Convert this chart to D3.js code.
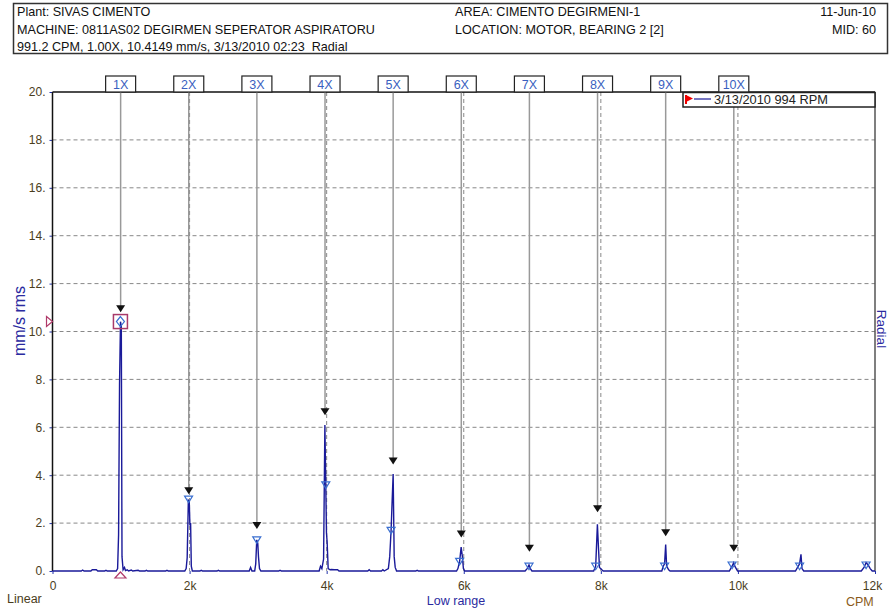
<!DOCTYPE html>
<html>
<head>
<meta charset="utf-8">
<script src="https://cdn.jsdelivr.net/npm/d3@7"></script>
<style>
  body { margin: 0; background: #fff; }
  svg { font-family: "Liberation Sans", Arial, sans-serif; }
  text { white-space: pre; }
</style>
</head>
<body>
<svg id="chart" width="891" height="609"></svg>
<script>
// header texts
const headerLeft = ['Plant: SIVAS CIMENTO', 'MACHINE: 0811AS02 DEGIRMEN SEPERATOR ASPIRATORU', '991.2 CPM, 1.00X, 10.4149 mm/s, 3/13/2010 02:23  Radial'];
const headerMid = ['AREA: CIMENTO DEGIRMENI-1', 'LOCATION: MOTOR, BEARING 2 [2]'];
const headerRight = ['11-Jun-10', 'MID: 60'];

const yTicks = [0, 2, 4, 6, 8, 10, 12, 14, 16, 18, 20];
const xTicks = [0, 2000, 4000, 6000, 8000, 10000, 12000];
const xTickLabels = ['0', '2k', '4k', '6k', '8k', '10k', '12k'];

const runSpeed = 994;   // RPM, harmonic spacing
const harmonicLabels = ['1X', '2X', '3X', '4X', '5X', '6X', '7X', '8X', '9X', '10X'];
const harmonicTips = [10.8, 3.2, 1.75, 6.5, 4.45, 1.4, 0.8, 2.45, 1.45, 0.8];

const cursor = { cpm: 991.2, amp: 10.4149 };

// spectrum, [CPM, mm/s rms]
const spectrum = [
  [0, 0], [420, 0], [440, 0.04], [460, 0], [560, 0], [580, 0.05], [640, 0.05], [660, 0], [760, 0], [780, 0.03], [800, 0],
  [930, 0], [950, 0.1], [964, 1.5], [978, 7.8], [992, 10.41], [1004, 10.2], [1014, 0.6], [1030, 0.05], [1050, 0.15], [1065, 0.02],
  [1090, 0.05], [1110, 0], [1150, 0.04], [1170, 0], [1250, 0.03], [1270, 0], [1350, 0], [1370, 0.03], [1390, 0],
  [1650, 0], [1670, 0.03], [1690, 0],
  [1930, 0], [1950, 0.1], [1965, 0.55], [1982, 2.95], [1995, 2.9], [2005, 1.9], [2015, 2.0], [2025, 0.2], [2040, 0],
  [2150, 0], [2170, 0.03], [2190, 0], [2400, 0], [2420, 0.03], [2440, 0],
  [2870, 0], [2890, 0.15], [2910, 0], [2950, 0], [2965, 0.3], [2980, 1.3], [2995, 1.15], [3005, 0.6], [3020, 0.1], [3040, 0],
  [3300, 0], [3320, 0.03], [3340, 0],
  [3890, 0], [3910, 0.2], [3930, 0.1], [3955, 0.5], [3974, 6.1], [3987, 3.6], [3997, 1.6], [4007, 1.2], [4022, 0.1],
  [4050, 0.05], [4070, 0.06], [4110, 0.05], [4160, 0.05], [4180, 0],
  [4600, 0], [4620, 0.05], [4640, 0], [4800, 0], [4820, 0.05], [4840, 0],
  [4900, 0.1], [4920, 0.6], [4940, 1.7], [4955, 2.9], [4970, 4.05], [4985, 0.6], [5000, 0.15], [5020, 0],
  [5300, 0], [5320, 0.03], [5340, 0],
  [5895, 0], [5915, 0.1], [5940, 0.4], [5962, 1.0], [5980, 0.6], [5995, 0.1], [6015, 0],
  [6895, 0], [6925, 0.1], [6952, 0.25], [6972, 0.1], [6995, 0],
  [7895, 0], [7925, 0.2], [7950, 1.95], [7965, 1.0], [7980, 0.15], [8015, 0.05], [8035, 0],
  [8890, 0], [8910, 0.2], [8930, 0.3], [8946, 1.1], [8960, 0.2], [8990, 0.05], [9010, 0],
  [9875, 0], [9895, 0.1], [9915, 0.2], [9938, 0.35], [9955, 0.2], [9975, 0.1], [9995, 0],
  [10840, 0], [10880, 0.2], [10900, 0.3], [10920, 0.7], [10935, 0.1], [10960, 0],
  [11800, 0], [11840, 0.15], [11870, 0.35], [11900, 0.25], [11930, 0.1], [11960, 0], [12000, 0]
];

// peak markers (open triangles)
const peakMarks = [[1985, 3.0], [2980, 1.3], [3987, 3.6], [4940, 1.7], [5940, 0.4], [6952, 0.2], [7925, 0.2],
  [8930, 0.2], [9915, 0.25], [10900, 0.2], [11870, 0.25]];

const svg = d3.select('#chart');
const plotL = 52.5, plotR = 875, plotT = 92, plotB = 571;

const x = d3.scaleLinear().domain([0, 12000]).range([plotL, plotR]);
const y = d3.scaleLinear().domain([0, 20]).range([plotB, plotT]);

// header box
svg.append('rect')
  .attr('x', 13.5).attr('y', 3.5).attr('width', 874).attr('height', 50)
  .attr('fill', '#fff').attr('stroke', '#333').attr('stroke-width', 1.5);
const hdr = svg.append('g').attr('font-size', 12.6).attr('fill', '#111');
const rowY = [16, 34, 51];
headerLeft.forEach((t, i) => hdr.append('text').attr('x', 17).attr('y', rowY[i]).text(t));
headerMid.forEach((t, i) => hdr.append('text').attr('x', 455).attr('y', rowY[i]).text(t));
headerRight.forEach((t, i) => hdr.append('text').attr('x', 876).attr('y', rowY[i])
  .attr('text-anchor', 'end').text(t));

// grid
svg.append('g')
  .selectAll('line')
  .data(yTicks.filter(d => d > 0 && d < 20))
  .join('line')
    .attr('x1', plotL).attr('x2', plotR)
    .attr('y1', d => y(d)).attr('y2', d => y(d))
    .attr('stroke', '#888').attr('stroke-dasharray', '4,3');
svg.append('g')
  .selectAll('line')
  .data(xTicks.filter(d => d > 0 && d < 12000))
  .join('line')
    .attr('x1', d => x(d)).attr('x2', d => x(d))
    .attr('y1', plotT).attr('y2', plotB)
    .attr('stroke', '#888').attr('stroke-dasharray', '4,3');

// y axis
const yAxis = svg.append('g')
  .attr('transform', `translate(${plotL},0)`)
  .call(d3.axisLeft(y).tickValues(yTicks).tickSize(3).tickFormat(d => d + '.'));
yAxis.select('.domain').remove();
yAxis.selectAll('line').attr('stroke', '#2233aa');
yAxis.selectAll('text').attr('fill', '#4a3d1c').attr('font-size', 12)
  .attr('font-family', '"Liberation Sans", Arial, sans-serif').attr('x', -7);

// x axis
const xAxis = svg.append('g')
  .attr('transform', `translate(0,${plotB})`)
  .call(d3.axisBottom(x).tickValues(xTicks).tickSize(3).tickFormat((d, i) => xTickLabels[i]));
xAxis.select('.domain').remove();
xAxis.selectAll('line').attr('stroke', '#2233aa');
xAxis.selectAll('text').attr('fill', '#4a3d1c').attr('font-size', 12)
  .attr('font-family', '"Liberation Sans", Arial, sans-serif').attr('dy', '1.05em');
xAxis.selectAll('.tick').filter(d => d === 12000).select('text').attr('x', -3);

// plot frame
svg.append('line').attr('x1', plotR).attr('x2', plotR).attr('y1', plotT).attr('y2', plotB)
  .attr('stroke', '#555').attr('stroke-width', 1.5);
svg.append('line').attr('x1', plotL).attr('x2', plotR).attr('y1', plotT).attr('y2', plotT)
  .attr('stroke', '#111').attr('stroke-width', 1.5);
svg.append('line').attr('x1', plotL).attr('x2', plotL).attr('y1', plotT).attr('y2', plotB)
  .attr('stroke', '#111').attr('stroke-width', 1.5);

// harmonic cursors
const harm = svg.append('g')
  .selectAll('g')
  .data(harmonicLabels.map((l, i) => ({ label: l, cpm: runSpeed * (i + 1), tip: harmonicTips[i] })))
  .join('g');
harm.append('line')
  .attr('x1', d => x(d.cpm)).attr('x2', d => x(d.cpm))
  .attr('y1', plotT).attr('y2', d => y(d.tip) - 6)
  .attr('stroke', '#999').attr('stroke-width', 1.5);
harm.append('path')
  .attr('d', d => `M${x(d.cpm) - 4.5},${y(d.tip) - 7}L${x(d.cpm) + 4.5},${y(d.tip) - 7}L${x(d.cpm)},${y(d.tip)}Z`)
  .attr('fill', '#111');
harm.append('rect')
  .attr('x', d => x(d.cpm) - 15).attr('y', 76).attr('width', 30).attr('height', 16)
  .attr('fill', '#fff').attr('stroke', '#222').attr('stroke-width', 1.2);
harm.append('text')
  .attr('x', d => x(d.cpm)).attr('y', 88.5).attr('text-anchor', 'middle')
  .attr('font-size', 12.5).attr('fill', '#3a5fc0')
  .text(d => d.label);

// legend
svg.append('rect').attr('x', 683).attr('y', 92.5).attr('width', 192).attr('height', 14.5)
  .attr('fill', '#fff').attr('stroke', '#222').attr('stroke-width', 1.5);
svg.append('path').attr('d', 'M686,95L693,98.5L686,102Z').attr('fill', '#e00');
svg.append('line').attr('x1', 686).attr('x2', 686).attr('y1', 95).attr('y2', 104).attr('stroke', '#e00').attr('stroke-width', 2);
svg.append('line').attr('x1', 694).attr('x2', 711).attr('y1', 99).attr('y2', 99).attr('stroke', '#1a1a99').attr('stroke-width', 1.2);
svg.append('text').attr('x', 714).attr('y', 104).attr('font-size', 12.8).attr('fill', '#222')
  .text('3/13/2010 ' + runSpeed + ' RPM');

// spectrum
const line = d3.line().x(d => x(d[0])).y(d => y(d[1]));
svg.append('path')
  .datum(spectrum)
  .attr('d', line)
  .attr('fill', 'none')
  .attr('stroke', '#1a1a99')
  .attr('stroke-width', 1.4);

// peak markers
svg.append('g')
  .selectAll('path')
  .data(peakMarks)
  .join('path')
    .attr('d', d => `M${x(d[0]) - 4},${y(d[1]) - 3}L${x(d[0]) + 4},${y(d[1]) - 3}L${x(d[0])},${y(d[1]) + 3.5}Z`)
    .attr('fill', 'none').attr('stroke', '#3a6fd0').attr('stroke-width', 1.2);

// cursor at 1X
const cx = x(cursor.cpm), cy = y(cursor.amp);
svg.append('rect').attr('x', cx - 7).attr('y', cy - 7).attr('width', 14).attr('height', 14)
  .attr('fill', 'none').attr('stroke', '#a83a6a').attr('stroke-width', 1.5);
svg.append('path').attr('d', `M${cx},${cy - 5}L${cx + 4},${cy}L${cx},${cy + 5}L${cx - 4},${cy}Z`)
  .attr('fill', 'none').attr('stroke', '#3a6fd0').attr('stroke-width', 1.2);
svg.append('path').attr('d', `M${plotL - 6},${cy - 5}L${plotL},${cy}L${plotL - 6},${cy + 5}Z`)
  .attr('fill', '#fff').attr('stroke', '#b03a6a').attr('stroke-width', 1.2);
svg.append('path').attr('d', `M${cx - 5.5},${plotB + 7}L${cx + 5.5},${plotB + 7}L${cx},${plotB + 1}Z`)
  .attr('fill', '#fff').attr('stroke', '#b03a6a').attr('stroke-width', 1.2);

// axis titles
svg.append('text')
  .attr('transform', 'translate(25,321) rotate(-90)')
  .attr('text-anchor', 'middle').attr('font-size', 16).attr('fill', '#2a2aa0')
  .text('mm/s rms');
svg.append('text')
  .attr('transform', 'translate(877,329) rotate(90)')
  .attr('text-anchor', 'middle').attr('font-size', 13.5).attr('fill', '#2a2aa0')
  .text('Radial');
svg.append('text').attr('x', 456).attr('y', 605).attr('text-anchor', 'middle')
  .attr('font-size', 12.5).attr('fill', '#2a2aa0').text('Low range');
svg.append('text').attr('x', 7).attr('y', 603).attr('font-size', 12.5).attr('fill', '#4a3d1c').text('Linear');
svg.append('text').attr('x', 846).attr('y', 606).attr('font-size', 12.5).attr('fill', '#8a5a20').text('CPM');
</script>
</body>
</html>
